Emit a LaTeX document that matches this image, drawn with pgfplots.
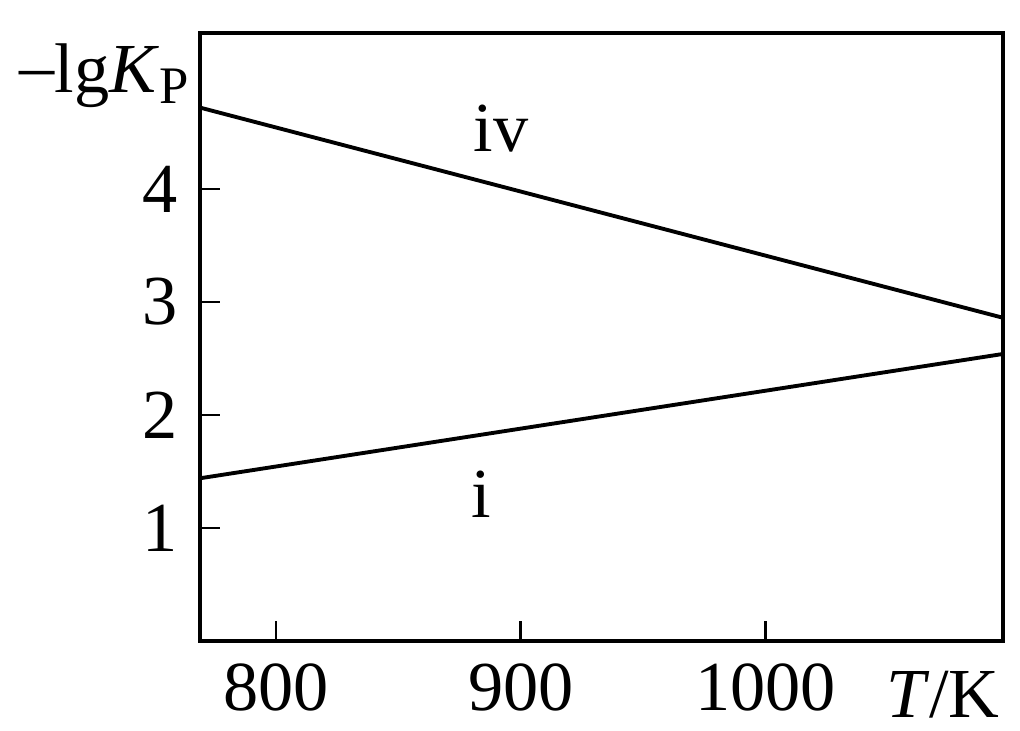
\documentclass[border=0pt]{standalone}
\usepackage{pgfplots}
\pgfplotsset{compat=1.18}
\usepackage{fontspec}
\setmainfont{Liberation Serif}
\begin{document}
\begin{tikzpicture}
\begin{axis}[
  scale only axis,
  width=80.3mm, height=60.8mm,
  xmin=769, xmax=1097,
  ymin=0, ymax=5.38,
  axis line style={line width=1.3pt},
  xtick={800,900,1000},
  ytick={1,2,3,4},
  xtick pos=lower, ytick pos=left,
  tick align=inside,
  major tick length=2mm,
  every tick/.style={black, line width=0.75pt},
  /pgf/number format/assume math mode=true,
  /pgf/number format/1000 sep={},
  tick label style={font=\fontsize{20}{24}\selectfont},
  xticklabel style={yshift=-1.0mm},
  yticklabel style={xshift=-1mm},
  clip=false,
]
\addplot[black, line width=1.1pt] coordinates {(769,4.72) (1097,2.86)};
\addplot[black, line width=1.1pt] coordinates {(769,1.44) (1097,2.54)};
\node[font=\fontsize{20}{24}\selectfont] at (axis cs:892,4.53) {iv};
\node[font=\fontsize{20}{24}\selectfont] at (axis cs:884,1.30) {i};
\node[font=\fontsize{20}{24}\selectfont, anchor=center] at ([xshift=-9.6mm]rel axis cs:0,0.93) {\raisebox{0.1ex}{–}lg\textit{K}\raisebox{-0.35ex}{\fontsize{15}{17}\selectfont P}};
\node[font=\fontsize{20}{24}\selectfont, anchor=center] at ([yshift=-5.4mm]rel axis cs:0.925,0) {\textit{T}/K};
\end{axis}
\pgfresetboundingbox
\path (-20mm,-8.9mm) rectangle (82mm,64.1mm);
\end{tikzpicture}
\end{document}
